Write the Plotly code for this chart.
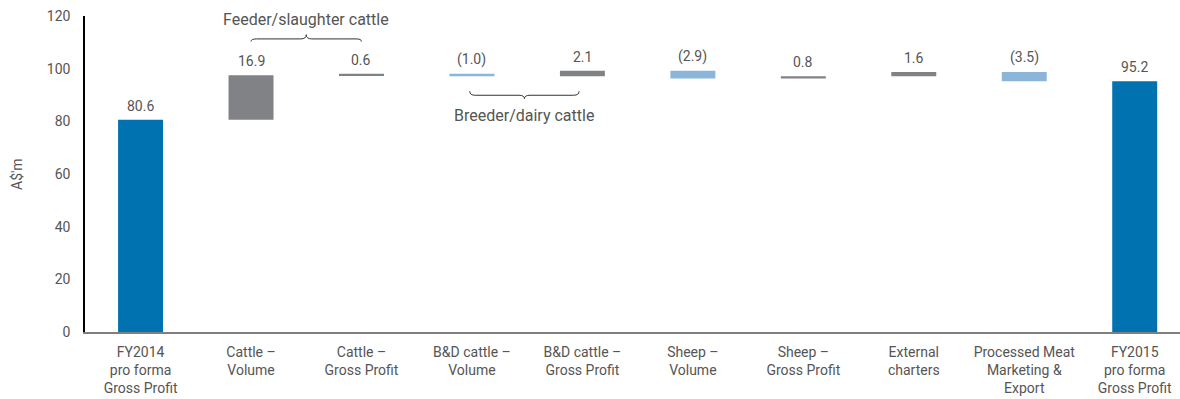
import plotly.graph_objects as go

# Gross profit bridge, FY2014 -> FY2015 (A$m)
categories = [
    "FY2014<br>pro forma<br>Gross Profit",
    "Cattle –<br>Volume",
    "Cattle –<br>Gross Profit",
    "B&D cattle –<br>Volume",
    "B&D cattle –<br>Gross Profit",
    "Sheep –<br>Volume",
    "Sheep –<br>Gross Profit",
    "External<br>charters",
    "Processed Meat<br>Marketing &<br>Export",
    "FY2015<br>pro forma<br>Gross Profit",
]
values = [80.6, 16.9, 0.6, -1.0, 2.1, -2.9, 0.8, 1.6, -3.5, 95.2]
measures = ["absolute", "relative", "relative", "relative", "relative",
            "relative", "relative", "relative", "relative", "total"]
value_labels = ["80.6", "16.9", "0.6", "(1.0)", "2.1", "(2.9)", "0.8", "1.6", "(3.5)", "95.2"]
y_ticks = [0, 20, 40, 60, 80, 100, 120]

BLUE = "#0072AF"
LIGHT_BLUE = "#8BB5D9"
GREY = "#818285"
TEXT = "#555555"
FONT = "Roboto"

x = list(range(len(categories)))

fig = go.Figure(go.Waterfall(
    x=x,
    y=values,
    measure=measures,
    width=0.407,
    increasing=dict(marker=dict(color=GREY)),
    decreasing=dict(marker=dict(color=LIGHT_BLUE)),
    totals=dict(marker=dict(color=BLUE)),
    connector=dict(visible=False),
    textposition="none",
    hoverinfo="skip",
))

# value labels sit on top of each bar
annotations = []
running = 0.0
for i, (v, m, lab) in enumerate(zip(values, measures, value_labels)):
    if m == "absolute":
        start, end = 0.0, v
        running = v
    elif m == "total":
        start, end = 0.0, running
    else:
        start, end = running, running + v
        running = end
    top = max(start, end)
    annotations.append(dict(
        x=i, y=top, xref="x", yref="y", text=lab, showarrow=False,
        yanchor="bottom", yshift=4, font=dict(family=FONT, size=14, color=TEXT),
    ))

# group captions
annotations.append(dict(x=1.5, y=118.7, xref="x", yref="y", text="Feeder/slaughter cattle",
                        showarrow=False, font=dict(family=FONT, size=16, color=TEXT)))
annotations.append(dict(x=3.47, y=82.3, xref="x", yref="y", text="Breeder/dairy cattle",
                        showarrow=False, font=dict(family=FONT, size=16, color=TEXT)))
# y-axis title
annotations.append(dict(x=-0.0621, y=0.5, xref="paper", yref="paper", text="A$'m",
                        xanchor="center", yanchor="middle",
                        textangle=-90, showarrow=False,
                        font=dict(family=FONT, size=14, color=TEXT)))


def brace(x1, x2, y_end, y_line, y_tip):
    xm = (x1 + x2) / 2
    dx = 0.05
    return (f"M {x1},{y_end} Q {x1},{y_line} {x1 + dx},{y_line} "
            f"L {xm - dx},{y_line} Q {xm},{y_line} {xm},{y_tip} "
            f"Q {xm},{y_line} {xm + dx},{y_line} "
            f"L {x2 - dx},{y_line} Q {x2},{y_line} {x2},{y_end}")


shapes = [
    dict(type="path", xref="x", yref="y", path=brace(1.0, 2.0, 110.3, 111.3, 112.9),
         line=dict(color="#333333", width=1)),
    dict(type="path", xref="x", yref="y", path=brace(2.98, 3.97, 91.4, 89.9, 88.6),
         line=dict(color="#333333", width=1)),
]

fig.update_layout(
    width=1180, height=399,
    margin=dict(l=85, r=0, t=16, b=67),
    paper_bgcolor="white", plot_bgcolor="white",
    showlegend=False,
    font=dict(family=FONT, size=14, color=TEXT),
    annotations=annotations,
    shapes=shapes,
    xaxis=dict(
        range=[-0.503, 9.41], tickvals=x, ticktext=categories,
        showline=True, linecolor="#7f7f7f", linewidth=2,
        showgrid=False, zeroline=False, ticks="", ticklabelstandoff=6,
        tickfont=dict(family=FONT, size=14, color=TEXT),
    ),
    yaxis=dict(
        range=[0, 120], tickvals=y_ticks,
        showline=True, linecolor="black", linewidth=1.5,
        showgrid=False, zeroline=False, ticks="", ticklabelstandoff=10,
        tickfont=dict(family=FONT, size=14, color=TEXT),
    ),
)

fig.write_html("out.html")
